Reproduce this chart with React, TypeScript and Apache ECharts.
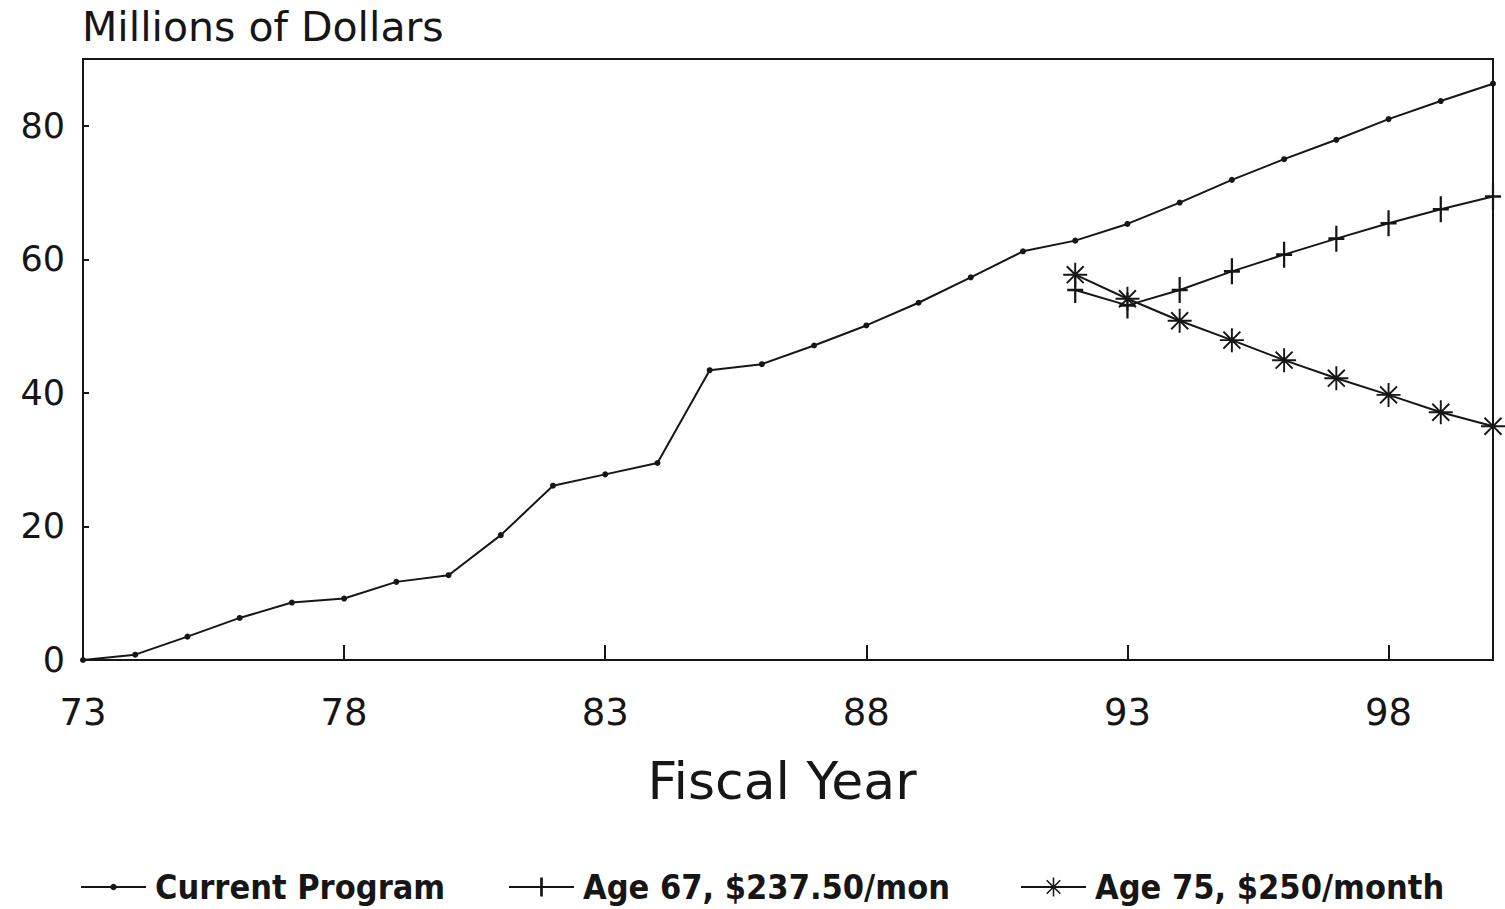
import React, { useEffect, useRef } from "react";
import * as echarts from "echarts";

const currentYears = [73, 74, 75, 76, 77, 78, 79, 80, 81, 82, 83, 84, 85, 86, 87, 88, 89, 90, 91, 92, 93, 94, 95, 96, 97, 98, 99, 100];
const currentValues = [0, 0.8, 3.5, 6.3, 8.6, 9.2, 11.7, 12.7, 18.7, 26.1, 27.8, 29.5, 43.4, 44.3, 47.1, 50.1, 53.5, 57.3, 61.2, 62.8, 65.3, 68.5, 71.9, 75.0, 77.9, 81.0, 83.7, 86.3];
const proposalYears = [92, 93, 94, 95, 96, 97, 98, 99, 100];
const age67Values = [55.4, 53.1, 55.4, 58.2, 60.7, 63.1, 65.4, 67.5, 69.4];
const age75Values = [57.7, 54.1, 50.8, 47.9, 44.9, 42.2, 39.7, 37.1, 35.0];
const seriesNames = ["Current Program", "Age 67, $237.50/mon", "Age 75, $250/month"];
const xTickLabels = ["73", "78", "83", "88", "93", "98"];

const INK = "#161616";

function asteriskPath(): string {
  const R = 10;
  const h = 0.8;
  const d = Math.atan(h / R);
  const r = h / Math.sin(Math.PI / 8);
  const pts: string[] = [];
  for (let k = 0; k < 8; k++) {
    const t = (k * Math.PI) / 4;
    pts.push(`${(R * Math.cos(t - d)).toFixed(3)},${(R * Math.sin(t - d)).toFixed(3)}`);
    pts.push(`${(R * Math.cos(t + d)).toFixed(3)},${(R * Math.sin(t + d)).toFixed(3)}`);
    const m = t + Math.PI / 8;
    pts.push(`${(r * Math.cos(m)).toFixed(3)},${(r * Math.sin(m)).toFixed(3)}`);
  }
  return "path://M" + pts.join(" L") + " Z";
}

const plusPath = "path://M-1.4,-10 L1.4,-10 L1.4,-1 L10,-1 L10,1 L1.4,1 L1.4,10 L-1.4,10 L-1.4,1 L-10,1 L-10,-1 L-1.4,-1 Z";

export default function App() {
  const ref = useRef<HTMLDivElement>(null);
  useEffect(() => {
    if (!ref.current) return;
    const chart = echarts.init(ref.current, null, { renderer: "svg" });
    const zip = (xs: number[], ys: number[]) => xs.map((x, i) => [x, ys[i]]);
    const lineStyle = { color: INK, width: 2 };
    const legendText = { fontFamily: "DejaVu Sans Condensed", fontWeight: "bold", fontSize: 34, color: INK, padding: [0, 0, 0, 4] };
    const legendBase = { top: 870, padding: 0, itemWidth: 65, itemGap: 0 };
    chart.setOption({
      animation: false,
      backgroundColor: "#ffffff",
      title: {
        text: "Millions of Dollars",
        left: 82,
        top: 6,
        padding: 0,
        textStyle: { fontFamily: "DejaVu Sans", fontSize: 41, fontWeight: "normal", color: INK },
      },
      grid: {
        left: 83,
        right: 12,
        top: 59,
        bottom: 249,
        show: true,
        borderColor: INK,
        borderWidth: 2,
        backgroundColor: "transparent",
      },
      xAxis: {
        type: "value",
        min: 73,
        max: 100,
        interval: 5,
        axisLine: { show: true, lineStyle: { color: INK, width: 2 } },
        axisTick: { show: true, inside: true, length: 15, lineStyle: { color: INK, width: 2 } },
        splitLine: { show: false },
        axisLabel: {
          margin: 34,
          showMaxLabel: false,
          fontFamily: "DejaVu Sans",
          fontSize: 37,
          color: INK,
          formatter: (v: number) => (xTickLabels.includes(String(v)) ? String(v) : ""),
        },
      },
      yAxis: {
        type: "value",
        min: 0,
        max: 90,
        interval: 20,
        axisLine: { show: true, lineStyle: { color: INK, width: 2 } },
        axisTick: { show: true, inside: true, length: 6, lineStyle: { color: INK, width: 2 } },
        splitLine: { show: false },
        axisLabel: {
          margin: 18,
          showMaxLabel: false,
          fontFamily: "DejaVu Sans",
          fontSize: 35,
          color: INK,
        },
      },
      legend: [
        { ...legendBase, left: 80, itemHeight: 8, data: [seriesNames[0]], textStyle: legendText },
        { ...legendBase, left: 508, itemHeight: 24, data: [seriesNames[1]], textStyle: legendText },
        { ...legendBase, left: 1020, itemHeight: 24, data: [seriesNames[2]], textStyle: legendText },
      ],
      graphic: [
        {
          type: "text",
          x: 782,
          y: 781,
          style: {
            text: "Fiscal Year",
            fontFamily: "DejaVu Sans",
            fontSize: 52,
            fill: INK,
            textAlign: "center",
            textVerticalAlign: "middle",
          },
        },
      ],
      series: [
        {
          name: seriesNames[0],
          type: "line",
          data: zip(currentYears, currentValues),
          symbol: "circle",
          symbolSize: 6,
          showAllSymbol: true,
          itemStyle: { color: INK },
          lineStyle,
        },
        {
          name: seriesNames[1],
          type: "line",
          data: zip(proposalYears, age67Values),
          symbol: plusPath,
          symbolSize: [16, 26],
          showAllSymbol: true,
          itemStyle: { color: INK },
          lineStyle,
        },
        {
          name: seriesNames[2],
          type: "line",
          data: zip(proposalYears, age75Values),
          symbol: asteriskPath(),
          symbolSize: 24,
          showAllSymbol: true,
          itemStyle: { color: INK },
          lineStyle,
        },
      ],
    });
    return () => chart.dispose();
  }, []);
  return <div ref={ref} style={{ position: "fixed", left: 0, top: 0, width: 1505, height: 909 }} />;
}
